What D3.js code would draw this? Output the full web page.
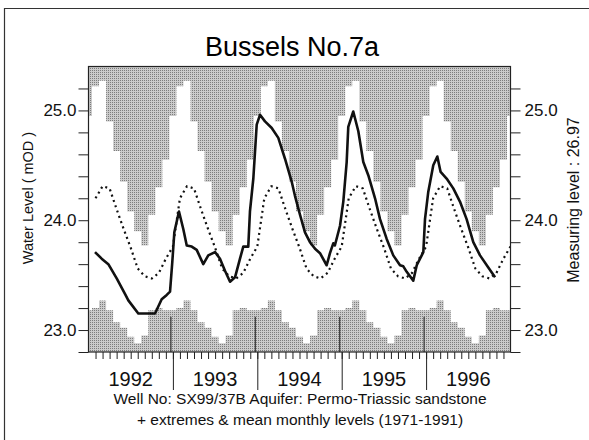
<!DOCTYPE html>
<html>
<head>
<meta charset="utf-8">
<script src="https://cdn.jsdelivr.net/npm/d3@7"></script>
<style>
  body { margin: 0; background: #fff; }
  svg { display: block; font-family: "Liberation Sans", Arial, Helvetica, sans-serif; }
</style>
</head>
<body>
<svg width="589" height="440"></svg>
<script>
// years on the time axis
var years = [1992, 1993, 1994, 1995, 1996];

// monthly extremes 1971-1991 (Jan..Dec), mOD
var monthlyMax = [24.95, 25.22, 25.27, 24.90, 24.63, 24.35, 24.08, 23.90, 23.77, 24.05, 24.30, 24.55];
var monthlyMin = [23.18, 23.20, 23.27, 23.18, 23.07, 23.02, 22.94, 22.88, 22.95, 23.18, 23.20, 23.18];
// mean monthly level 1971-1991 (value at month end)
var monthlyMean = [24.20, 24.31, 24.29, 24.10, 23.92, 23.75, 23.56, 23.49, 23.47, 23.52, 23.65, 23.76];

// observed levels (decimal year, mOD)
var obsTime = [1992.077, 1992.156, 1992.235, 1992.334, 1992.432, 1992.472, 1992.590, 1992.788, 1992.867, 1992.927,
  1992.966, 1992.993, 1993.017, 1993.072, 1993.123, 1993.164, 1993.223, 1993.282, 1993.360, 1993.419,
  1993.499, 1993.558, 1993.617, 1993.677, 1993.736, 1993.795, 1993.834, 1993.893, 1993.913, 1993.953,
  1993.993, 1994.032, 1994.091, 1994.171, 1994.249, 1994.328, 1994.408, 1994.447, 1994.506, 1994.565,
  1994.624, 1994.684, 1994.743, 1994.822, 1994.861, 1994.900, 1994.919, 1994.980, 1995.019, 1995.059,
  1995.078, 1995.137, 1995.197, 1995.256, 1995.315, 1995.395, 1995.454, 1995.533, 1995.611, 1995.691,
  1995.730, 1995.770, 1995.848, 1995.889, 1995.948, 1995.967, 1995.987, 1996.026, 1996.085, 1996.133,
  1996.172, 1996.243, 1996.322, 1996.401, 1996.480, 1996.559, 1996.639, 1996.737, 1996.817];
var obsLevel = [23.71, 23.65, 23.60, 23.47, 23.33, 23.27, 23.15, 23.15, 23.28, 23.32,
  23.35, 23.62, 23.89, 24.08, 23.92, 23.77, 23.76, 23.73, 23.60, 23.68,
  23.71, 23.65, 23.54, 23.44, 23.48, 23.65, 23.76, 23.76, 24.08, 24.38,
  24.87, 24.96, 24.90, 24.84, 24.75, 24.56, 24.35, 24.22, 24.05, 23.89,
  23.80, 23.74, 23.70, 23.59, 23.70, 23.79, 23.77, 23.95, 24.17, 24.53,
  24.85, 24.99, 24.81, 24.53, 24.41, 24.20, 24.01, 23.83, 23.68, 23.59,
  23.58, 23.53, 23.45, 23.59, 23.68, 23.71, 24.01, 24.26, 24.50, 24.58,
  24.44, 24.38, 24.29, 24.17, 24.01, 23.80, 23.68, 23.57, 23.48];

var yTicks = [22.8, 23.0, 23.2, 23.4, 23.6, 23.8, 24.0, 24.2, 24.4, 24.6, 24.8, 25.0, 25.2];
var yLabels = [23.0, 24.0, 25.0];

var svg = d3.select("svg");
var plotL = 88.5, plotR = 510.5, plotT = 66.5, plotB = 352;

var x = d3.scaleLinear().domain([1992, 1997]).range([plotL, plotR]);
var y = d3.scaleLinear().domain([22.8, 25.4]).range([plotB, plotT]);

// stippled grey like the print
var defs = svg.append("defs");
var pat = defs.append("pattern").attr("id", "stip")
  .attr("width", 2).attr("height", 2).attr("patternUnits", "userSpaceOnUse");
pat.append("rect").attr("width", 2).attr("height", 2).attr("fill", "#cbcbcb");
pat.append("rect").attr("width", 1).attr("height", 1).attr("fill", "#7d7d7d");
defs.append("clipPath").attr("id", "plot").append("rect")
  .attr("x", plotL).attr("y", plotT).attr("width", plotR - plotL).attr("height", plotB - plotT);

// page border of the scanned sheet
svg.append("path").attr("d", "M4.5,440V8.5H589")
  .attr("fill", "none").attr("stroke", "#333").attr("stroke-width", 1.2);

svg.append("text").attr("x", 292).attr("y", 56).attr("text-anchor", "middle")
  .attr("font-size", 27).text("Bussels No.7a");

// month steps of the extremes, repeated every year
var steps = [];
years.forEach(function(yr) {
  monthlyMax.forEach(function(v, i) {
    steps.push({t: yr + i / 12, max: v, min: monthlyMin[i]});
  });
});
steps.push({t: 1997, max: monthlyMax[0], min: monthlyMin[0]});

var means = [];
years.forEach(function(yr) {
  monthlyMean.forEach(function(v, i) { means.push({t: yr + (i + 1) / 12, v: v}); });
});

var obs = obsTime.map(function(t, i) { return {t: t, v: obsLevel[i]}; });

var g = svg.append("g").attr("clip-path", "url(#plot)");

g.append("path").datum(steps)
  .attr("d", d3.area().curve(d3.curveStep).x(function(d) { return x(d.t); })
    .y0(y(25.4)).y1(function(d) { return y(d.max); }))
  .attr("fill", "url(#stip)");

g.append("path").datum(steps)
  .attr("d", d3.area().curve(d3.curveStep).x(function(d) { return x(d.t); })
    .y0(y(22.8)).y1(function(d) { return y(d.min); }))
  .attr("fill", "url(#stip)");

// dark marks in the lower band just before each new year
g.selectAll(".yrmark").data(years.slice(1)).enter().append("line")
  .attr("x1", function(d) { return x(d) - 2; }).attr("x2", function(d) { return x(d) - 2; })
  .attr("y1", y(23.12)).attr("y2", plotB)
  .attr("stroke", "#333").attr("stroke-width", 1.2);

g.append("path").datum(means)
  .attr("d", d3.line().x(function(d) { return x(d.t); }).y(function(d) { return y(d.v); }))
  .attr("fill", "none").attr("stroke", "#111").attr("stroke-width", 2.2)
  .attr("stroke-dasharray", "2,3.6");

g.append("path").datum(obs)
  .attr("d", d3.line().x(function(d) { return x(d.t); }).y(function(d) { return y(d.v); }))
  .attr("fill", "none").attr("stroke", "#111").attr("stroke-width", 2.6)
  .attr("stroke-linejoin", "round");

// frame
svg.append("rect").attr("x", plotL).attr("y", plotT)
  .attr("width", plotR - plotL).attr("height", plotB - plotT)
  .attr("fill", "none").attr("stroke", "#222").attr("stroke-width", 1.2);

function fmt(d) { return yLabels.indexOf(d) >= 0 ? d.toFixed(1) : ""; }

var yl = svg.append("g").attr("transform", "translate(" + plotL + ",0)")
  .call(d3.axisLeft(y).tickValues(yTicks).tickSize(10).tickSizeOuter(0).tickPadding(2).tickFormat(fmt));
var yr = svg.append("g").attr("transform", "translate(" + plotR + ",0)")
  .call(d3.axisRight(y).tickValues(yTicks).tickSize(10).tickSizeOuter(0).tickPadding(4).tickFormat(fmt));
[yl, yr].forEach(function(a) {
  a.select(".domain").remove();
  a.selectAll("text").attr("font-size", 17).attr("fill", "#111")
    .attr("font-family", "Liberation Sans, Arial, sans-serif");
  a.selectAll("line").attr("stroke", "#222");
});

var monthTicks = steps.map(function(d) { return d.t; }).slice(1, -1);
var xm = svg.append("g").attr("transform", "translate(0," + plotB + ")")
  .call(d3.axisBottom(x).tickValues(monthTicks).tickSize(7).tickSizeOuter(0).tickFormat(""));
var xy = svg.append("g").attr("transform", "translate(0," + plotB + ")")
  .call(d3.axisBottom(x).tickValues(years.slice(1)).tickSize(38).tickSizeOuter(0).tickFormat(""));
[xm, xy].forEach(function(a) {
  a.select(".domain").remove();
  a.selectAll("line").attr("stroke", "#222");
});

svg.selectAll(".yearlab").data(years).enter().append("text")
  .attr("x", function(d) { return x(d + 0.5); }).attr("y", 386)
  .attr("text-anchor", "middle").attr("font-size", 20).attr("fill", "#111")
  .text(function(d) { return d; });

svg.append("text").attr("transform", "translate(33,198) rotate(-90)")
  .attr("text-anchor", "middle").attr("font-size", 14.5).attr("fill", "#111")
  .text("Water Level  ( mOD )");
svg.append("text").attr("transform", "translate(579,200) rotate(-90)")
  .attr("text-anchor", "middle").attr("font-size", 16).attr("fill", "#111")
  .text("Measuring level :  26.97");

svg.append("text").attr("x", 300).attr("y", 404).attr("text-anchor", "middle")
  .attr("font-size", 15.5).attr("fill", "#111")
  .text("Well No: SX99/37B Aquifer: Permo-Triassic sandstone");
svg.append("text").attr("x", 300).attr("y", 425).attr("text-anchor", "middle")
  .attr("font-size", 15.5).attr("fill", "#111")
  .text("+ extremes & mean monthly levels (1971-1991)");
</script>
</body>
</html>
